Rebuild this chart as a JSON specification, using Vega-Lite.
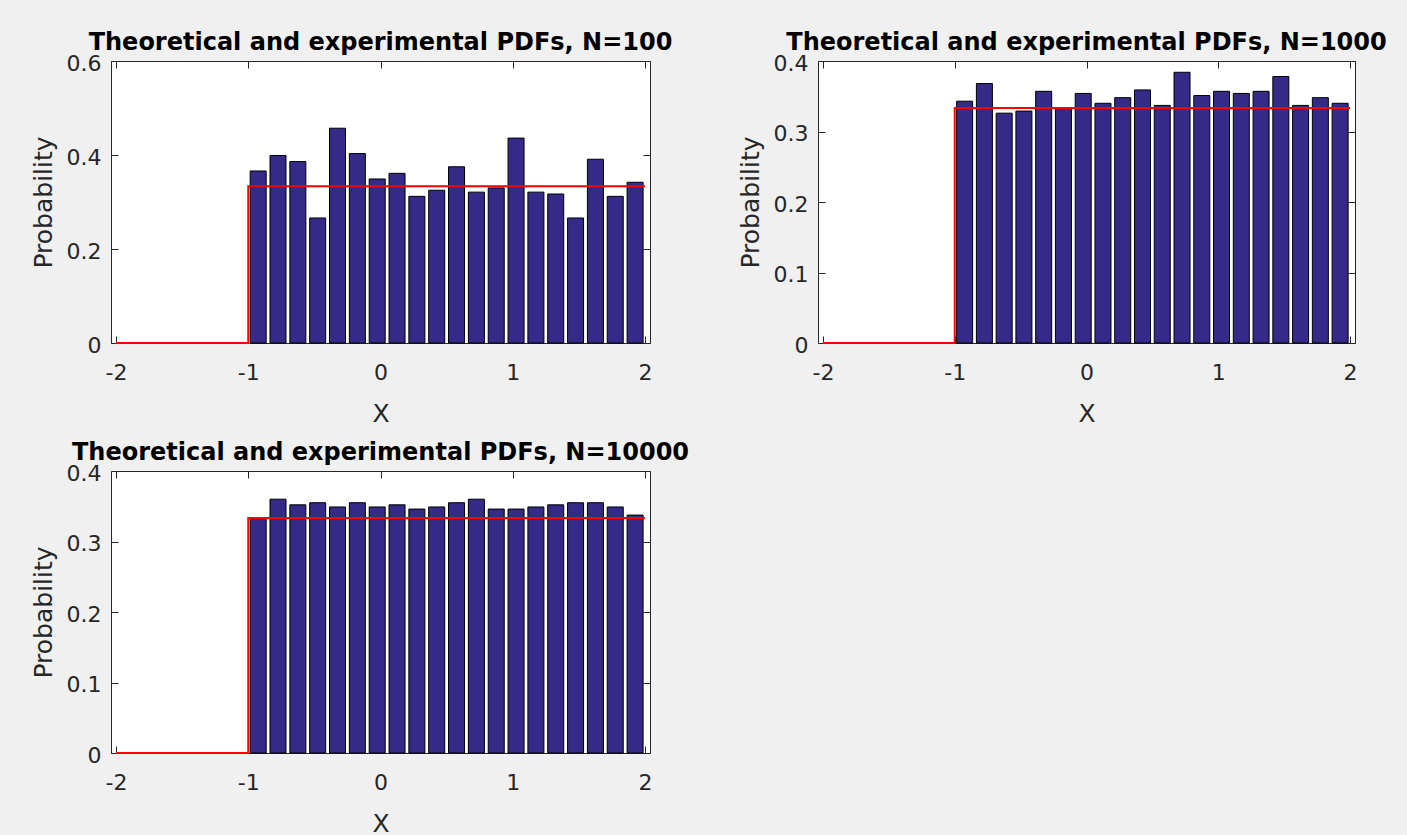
{
  "$schema": "https://vega.github.io/schema/vega-lite/v6.json",
  "background": "#f0f0f0",
  "padding": {"left": 30, "top": 30, "right": 19, "bottom": 8},
  "datasets": {
    "h100": [
      {"x": -0.925, "p": 0.366}, {"x": -0.775, "p": 0.399}, {"x": -0.625, "p": 0.386}, {"x": -0.475, "p": 0.266},
      {"x": -0.325, "p": 0.457}, {"x": -0.175, "p": 0.403}, {"x": -0.025, "p": 0.349}, {"x": 0.125, "p": 0.361},
      {"x": 0.275, "p": 0.312}, {"x": 0.425, "p": 0.325}, {"x": 0.575, "p": 0.375}, {"x": 0.725, "p": 0.321},
      {"x": 0.875, "p": 0.330}, {"x": 1.025, "p": 0.436}, {"x": 1.175, "p": 0.321}, {"x": 1.325, "p": 0.317},
      {"x": 1.475, "p": 0.266}, {"x": 1.625, "p": 0.391}, {"x": 1.775, "p": 0.312}, {"x": 1.925, "p": 0.342}
    ],
    "h1000": [
      {"x": -0.925, "p": 0.343}, {"x": -0.775, "p": 0.368}, {"x": -0.625, "p": 0.326}, {"x": -0.475, "p": 0.329},
      {"x": -0.325, "p": 0.357}, {"x": -0.175, "p": 0.333}, {"x": -0.025, "p": 0.354}, {"x": 0.125, "p": 0.340},
      {"x": 0.275, "p": 0.348}, {"x": 0.425, "p": 0.359}, {"x": 0.575, "p": 0.337}, {"x": 0.725, "p": 0.384},
      {"x": 0.875, "p": 0.351}, {"x": 1.025, "p": 0.357}, {"x": 1.175, "p": 0.354}, {"x": 1.325, "p": 0.357},
      {"x": 1.475, "p": 0.378}, {"x": 1.625, "p": 0.337}, {"x": 1.775, "p": 0.348}, {"x": 1.925, "p": 0.340}
    ],
    "h10000": [
      {"x": -0.925, "p": 0.334}, {"x": -0.775, "p": 0.360}, {"x": -0.625, "p": 0.352}, {"x": -0.475, "p": 0.355},
      {"x": -0.325, "p": 0.349}, {"x": -0.175, "p": 0.355}, {"x": -0.025, "p": 0.349}, {"x": 0.125, "p": 0.352},
      {"x": 0.275, "p": 0.346}, {"x": 0.425, "p": 0.349}, {"x": 0.575, "p": 0.355}, {"x": 0.725, "p": 0.360},
      {"x": 0.875, "p": 0.346}, {"x": 1.025, "p": 0.346}, {"x": 1.175, "p": 0.349}, {"x": 1.325, "p": 0.352},
      {"x": 1.475, "p": 0.355}, {"x": 1.625, "p": 0.355}, {"x": 1.775, "p": 0.349}, {"x": 1.925, "p": 0.3375}
    ],
    "pdf": [
      {"x": -2, "f": 0},
      {"x": -1, "f": 0.3333333},
      {"x": 2, "f": 0.3333333}
    ]
  },
  "columns": 2,
  "spacing": {"row": 128, "column": 168},
  "bounds": "flush",
  "concat": [
    {
      "width": 539, "height": 282,
      "title": "Theoretical and experimental PDFs, N=100",
      "layer": [
        {
          "data": {"name": "h100"},
          "mark": {"type": "bar", "orient": "vertical", "width": 16, "fill": "#352a87", "stroke": "#000000", "strokeWidth": 1},
          "encoding": {
            "x": {"field": "x", "type": "quantitative", "scale": {"domain": [-2, 2], "nice": false},
                  "axis": {"orient": "bottom", "title": "X", "values": [-2, -1, 0, 1, 2], "labelPadding": 26, "titlePadding": 18,
                           "labelExpr": "(datum.value < 0 ? '-' : '') + abs(datum.value)"}},
            "y": {"field": "p", "type": "quantitative", "scale": {"domain": [0, 0.6], "nice": false},
                  "axis": {"orient": "left", "title": "Probability", "values": [0, 0.2, 0.4, 0.6], "labelPadding": 17, "titlePadding": 10, "labelOffset": 2,
                           "labelExpr": "datum.value == 0 ? '0' : format(datum.value, '.1f')"}}
          }
        },
        {
          "data": {"name": "pdf"},
          "mark": {"type": "line", "interpolate": "step-after", "color": "#ff0000", "strokeWidth": 2},
          "encoding": {
            "x": {"field": "x", "type": "quantitative", "axis": {"orient": "top", "title": null, "labels": false, "values": [-2, -1, 0, 1, 2]}},
            "y": {"field": "f", "type": "quantitative", "axis": {"orient": "right", "title": null, "labels": false, "values": [0, 0.2, 0.4, 0.6]}}
          }
        }
      ],
      "resolve": {"axis": {"x": "independent", "y": "independent"}}
    },
    {
      "width": 537, "height": 282,
      "title": "Theoretical and experimental PDFs, N=1000",
      "layer": [
        {
          "data": {"name": "h1000"},
          "mark": {"type": "bar", "orient": "vertical", "width": 16, "fill": "#352a87", "stroke": "#000000", "strokeWidth": 1},
          "encoding": {
            "x": {"field": "x", "type": "quantitative", "scale": {"domain": [-2, 2], "nice": false},
                  "axis": {"orient": "bottom", "title": "X", "values": [-2, -1, 0, 1, 2], "labelPadding": 26, "titlePadding": 18,
                           "labelExpr": "(datum.value < 0 ? '-' : '') + abs(datum.value)"}},
            "y": {"field": "p", "type": "quantitative", "scale": {"domain": [0, 0.4], "nice": false},
                  "axis": {"orient": "left", "title": "Probability", "values": [0, 0.1, 0.2, 0.3, 0.4], "labelPadding": 17, "titlePadding": 10, "labelOffset": 2,
                           "labelExpr": "datum.value == 0 ? '0' : format(datum.value, '.1f')"}}
          }
        },
        {
          "data": {"name": "pdf"},
          "mark": {"type": "line", "interpolate": "step-after", "color": "#ff0000", "strokeWidth": 2},
          "encoding": {
            "x": {"field": "x", "type": "quantitative", "axis": {"orient": "top", "title": null, "labels": false, "values": [-2, -1, 0, 1, 2]}},
            "y": {"field": "f", "type": "quantitative", "axis": {"orient": "right", "title": null, "labels": false, "values": [0, 0.1, 0.2, 0.3, 0.4]}}
          }
        }
      ],
      "resolve": {"axis": {"x": "independent", "y": "independent"}}
    },
    {
      "width": 539, "height": 282,
      "title": "Theoretical and experimental PDFs, N=10000",
      "layer": [
        {
          "data": {"name": "h10000"},
          "mark": {"type": "bar", "orient": "vertical", "width": 16, "fill": "#352a87", "stroke": "#000000", "strokeWidth": 1},
          "encoding": {
            "x": {"field": "x", "type": "quantitative", "scale": {"domain": [-2, 2], "nice": false},
                  "axis": {"orient": "bottom", "title": "X", "values": [-2, -1, 0, 1, 2], "labelPadding": 26, "titlePadding": 18,
                           "labelExpr": "(datum.value < 0 ? '-' : '') + abs(datum.value)"}},
            "y": {"field": "p", "type": "quantitative", "scale": {"domain": [0, 0.4], "nice": false},
                  "axis": {"orient": "left", "title": "Probability", "values": [0, 0.1, 0.2, 0.3, 0.4], "labelPadding": 17, "titlePadding": 10, "labelOffset": 2,
                           "labelExpr": "datum.value == 0 ? '0' : format(datum.value, '.1f')"}}
          }
        },
        {
          "data": {"name": "pdf"},
          "mark": {"type": "line", "interpolate": "step-after", "color": "#ff0000", "strokeWidth": 2},
          "encoding": {
            "x": {"field": "x", "type": "quantitative", "axis": {"orient": "top", "title": null, "labels": false, "values": [-2, -1, 0, 1, 2]}},
            "y": {"field": "f", "type": "quantitative", "axis": {"orient": "right", "title": null, "labels": false, "values": [0, 0.1, 0.2, 0.3, 0.4]}}
          }
        }
      ],
      "resolve": {"axis": {"x": "independent", "y": "independent"}}
    }
  ],
  "config": {
    "font": "DejaVu Sans",
    "view": {"stroke": "#262626", "strokeWidth": 1, "fill": "#ffffff"},
    "axis": {
      "grid": false, "domain": false,
      "tickSize": -7, "tickColor": "#262626", "tickWidth": 1,
      "labelFont": "DejaVu Sans", "labelFontSize": 22, "labelColor": "#262626",
      "titleFont": "DejaVu Sans", "titleFontSize": 25, "titleFontWeight": "normal", "titleColor": "#262626"
    },
    "title": {"font": "DejaVu Sans", "fontSize": 24, "fontWeight": "bold", "color": "#000000", "baseline": "alphabetic", "offset": -3, "anchor": "middle"}
  }
}
